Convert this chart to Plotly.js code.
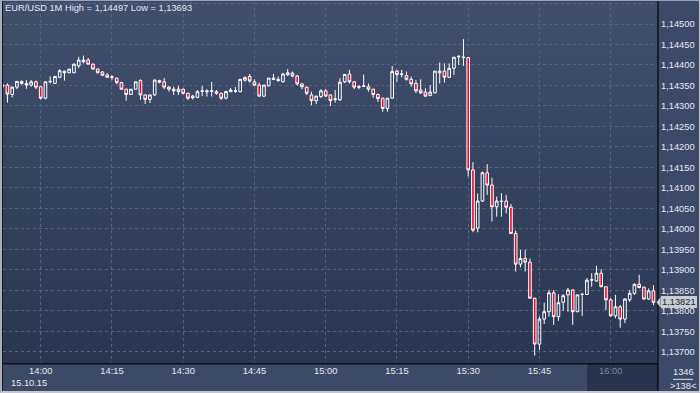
<!DOCTYPE html>
<html>
<head>
<meta charset="utf-8">
<script src="https://cdn.plot.ly/plotly-3.0.1.min.js"></script>
<style>
html,body{margin:0;padding:0;background:#3d4a67;}
#wrap{position:relative;width:700px;height:393px;overflow:hidden;}
#chart{position:absolute;left:0;top:0;width:700px;height:393px;}
#frame{position:absolute;left:0;top:0;width:700px;height:393px;box-sizing:border-box;pointer-events:none;
  border-left:2px solid #aab0b9;border-top:1px solid #9aa3b0;border-right:1px solid #c3c7cd;border-bottom:2px solid #c3c7cd;}
#frame2{position:absolute;left:2px;top:1px;width:1px;height:390px;background:#15181f;pointer-events:none;}
</style>
</head>
<body>
<div id="wrap"><div id="chart"></div><div id="frame"></div><div id="frame2"></div></div>
<script>
// ---- data (EUR/USD, 1 minute bars, 15.10.15) ----
const tradeDate = '2015-10-15';
const times = ['13:52','13:53','13:54','13:55','13:56','13:57','13:58','13:59',
'14:00','14:01','14:02','14:03','14:04','14:05','14:06','14:07','14:08','14:09','14:10','14:11','14:12','14:13','14:14',
'14:15','14:16','14:17','14:18','14:19','14:20','14:21','14:22','14:23','14:24','14:25','14:26','14:27','14:28','14:29',
'14:30','14:31','14:32','14:33','14:34','14:35','14:36','14:37','14:38','14:39','14:40','14:41','14:42','14:43','14:44',
'14:45','14:46','14:47','14:48','14:49','14:50','14:51','14:52','14:53','14:54','14:55','14:56','14:57','14:58','14:59',
'15:00','15:01','15:02','15:03','15:04','15:05','15:06','15:07','15:08','15:09','15:10','15:11','15:12','15:13','15:14',
'15:15','15:16','15:17','15:18','15:19','15:20','15:21','15:22','15:23','15:24','15:25','15:26','15:27','15:28','15:29',
'15:30','15:31','15:32','15:33','15:34','15:35','15:36','15:37','15:38','15:39','15:40','15:41','15:42','15:43','15:44',
'15:45','15:46','15:47','15:48','15:49','15:50','15:51','15:52','15:53','15:54','15:55','15:56','15:57','15:58','15:59',
'16:00','16:01','16:02','16:03','16:04','16:05','16:06','16:07','16:08','16:09'];

const openP = [1.14351,1.14351,1.14328,1.14346,1.14360,1.14355,1.14351,1.14359,
1.14347,1.14319,1.14359,1.14355,1.14370,1.14385,1.14381,1.14381,1.14398,1.14408,1.14412,1.14402,1.14390,1.14383,1.14376,
1.14370,1.14368,1.14357,1.14341,1.14328,1.14341,1.14362,1.14327,1.14316,1.14327,1.14362,1.14359,1.14346,1.14341,1.14335,
1.14341,1.14331,1.14324,1.14321,1.14337,1.14337,1.14336,1.14335,1.14331,1.14319,1.14335,1.14337,1.14335,1.14363,1.14372,
1.14359,1.14351,1.14324,1.14349,1.14368,1.14365,1.14359,1.14376,1.14380,1.14373,1.14354,1.14346,1.14327,1.14313,1.14323,
1.14337,1.14327,1.14316,1.14315,1.14359,1.14378,1.14359,1.14347,1.14349,1.14347,1.14341,1.14328,1.14319,1.14294,1.14319,
1.14385,1.14377,1.14374,1.14365,1.14355,1.14339,1.14334,1.14326,1.14332,1.14381,1.14385,1.14370,1.14392,1.14420,1.14418,
1.14418,1.14144,1.14002,1.14068,1.14137,1.14107,1.14054,1.14068,1.14068,1.14053,1.13989,1.13914,1.13928,1.13919,1.13831,
1.13719,1.13780,1.13798,1.13844,1.13786,1.13821,1.13839,1.13851,1.13798,1.13840,1.13840,1.13875,1.13873,1.13892,1.13859,
1.13827,1.13788,1.13810,1.13780,1.13827,1.13843,1.13865,1.13858,1.13829,1.13849];

const highP = [1.14354,1.14355,1.14347,1.14361,1.14362,1.14363,1.14363,1.14362,
1.14348,1.14359,1.14372,1.14372,1.14390,1.14386,1.14390,1.14404,1.14420,1.14423,1.14417,1.14404,1.14391,1.14385,1.14380,
1.14375,1.14369,1.14359,1.14342,1.14341,1.14359,1.14365,1.14328,1.14327,1.14365,1.14364,1.14368,1.14349,1.14347,1.14349,
1.14342,1.14332,1.14327,1.14339,1.14349,1.14341,1.14359,1.14339,1.14332,1.14337,1.14344,1.14346,1.14365,1.14372,1.14378,
1.14365,1.14357,1.14351,1.14368,1.14378,1.14372,1.14381,1.14390,1.14384,1.14376,1.14355,1.14347,1.14335,1.14324,1.14341,
1.14341,1.14328,1.14339,1.14368,1.14378,1.14388,1.14361,1.14351,1.14377,1.14355,1.14342,1.14330,1.14320,1.14319,1.14398,
1.14388,1.14388,1.14384,1.14372,1.14363,1.14365,1.14343,1.14351,1.14385,1.14406,1.14404,1.14404,1.14419,1.14424,1.14463,
1.14419,1.14163,1.14087,1.14140,1.14158,1.14125,1.14079,1.14087,1.14083,1.14061,1.13996,1.13949,1.13949,1.13928,1.13832,
1.13786,1.13820,1.13851,1.13851,1.13841,1.13841,1.13856,1.13853,1.13840,1.13841,1.13880,1.13892,1.13910,1.13902,1.13860,
1.13831,1.13839,1.13814,1.13831,1.13851,1.13867,1.13888,1.13859,1.13855,1.13863];

const lowP = [1.14344,1.14308,1.14321,1.14341,1.14352,1.14342,1.14347,1.14341,
1.14316,1.14316,1.14355,1.14354,1.14368,1.14362,1.14380,1.14380,1.14392,1.14404,1.14401,1.14389,1.14380,1.14373,1.14369,
1.14363,1.14353,1.14339,1.14313,1.14327,1.14340,1.14315,1.14305,1.14307,1.14324,1.14355,1.14341,1.14335,1.14327,1.14327,
1.14328,1.14315,1.14316,1.14319,1.14324,1.14323,1.14323,1.14327,1.14315,1.14316,1.14334,1.14332,1.14333,1.14359,1.14357,
1.14349,1.14323,1.14322,1.14348,1.14363,1.14359,1.14357,1.14373,1.14370,1.14350,1.14341,1.14327,1.14302,1.14305,1.14319,
1.14323,1.14300,1.14308,1.14312,1.14356,1.14355,1.14341,1.14341,1.14346,1.14335,1.14320,1.14310,1.14286,1.14286,1.14317,
1.14359,1.14370,1.14362,1.14347,1.14331,1.14329,1.14323,1.14324,1.14331,1.14355,1.14357,1.14368,1.14376,1.14400,1.14398,
1.14128,1.13992,1.13992,1.14066,1.14083,1.14018,1.14030,1.14030,1.14038,1.13988,1.13896,1.13906,1.13896,1.13830,1.13691,
1.13705,1.13768,1.13786,1.13766,1.13776,1.13800,1.13798,1.13766,1.13797,1.13788,1.13839,1.13859,1.13871,1.13858,1.13802,
1.13786,1.13782,1.13759,1.13770,1.13822,1.13839,1.13855,1.13827,1.13827,1.13814];

const closeP = [1.14349,1.14329,1.14346,1.14360,1.14355,1.14351,1.14359,1.14346,
1.14319,1.14359,1.14360,1.14372,1.14386,1.14381,1.14390,1.14402,1.14412,1.14412,1.14402,1.14390,1.14381,1.14375,1.14370,
1.14371,1.14357,1.14341,1.14328,1.14341,1.14359,1.14327,1.14316,1.14327,1.14363,1.14358,1.14346,1.14341,1.14337,1.14341,
1.14331,1.14319,1.14320,1.14335,1.14336,1.14335,1.14337,1.14331,1.14319,1.14335,1.14339,1.14336,1.14365,1.14369,1.14361,
1.14351,1.14324,1.14351,1.14368,1.14365,1.14362,1.14378,1.14381,1.14373,1.14354,1.14347,1.14331,1.14313,1.14324,1.14337,
1.14324,1.14313,1.14317,1.14358,1.14377,1.14359,1.14346,1.14346,1.14348,1.14341,1.14328,1.14318,1.14294,1.14319,1.14384,
1.14377,1.14378,1.14365,1.14354,1.14337,1.14332,1.14324,1.14334,1.14385,1.14385,1.14370,1.14392,1.14419,1.14421,1.14419,
1.14144,1.13997,1.14068,1.14137,1.14107,1.14054,1.14068,1.14067,1.14053,1.13989,1.13914,1.13928,1.13919,1.13831,1.13719,
1.13780,1.13798,1.13844,1.13786,1.13820,1.13837,1.13851,1.13798,1.13839,1.13841,1.13875,1.13876,1.13892,1.13859,1.13827,
1.13788,1.13810,1.13780,1.13829,1.13843,1.13865,1.13857,1.13829,1.13849,1.13821];

const titleText = 'EUR/USD 1M High = 1,14497 Low = 1,13693';
const dateLabel = '15.10.15';
const tickTimes = ['14:00','14:15','14:30','14:45','15:00','15:15','15:30','15:45','16:00'];
const dimTick = '16:00';
const lastPriceText = '1,13821';
const lastPrice = 1.13821;
const cornerTop = '1346';
const cornerBottom = '>138<';
const yRange = [1.136729, 1.145537];
const xRange = ['13:52:03.8', '16:09:45'];

// ---- build ----
const x = times.map(t => tradeDate + ' ' + t);

function gradientURL(){
  const c = document.createElement('canvas'); c.width = 4; c.height = 256;
  const g = c.getContext('2d');
  const gr = g.createLinearGradient(0,0,0,256);
  gr.addColorStop(0,'#414f6d');
  gr.addColorStop(1,'#2b3752');
  g.fillStyle = gr; g.fillRect(0,0,4,256);
  return c.toDataURL();
}

const txtCol = '#e6e9ef';
const font = 'Liberation Sans, Arial, sans-serif';
const gridCol = '#56647f';

const trace = {
  type:'candlestick', x:x, open:openP, high:highP, low:lowP, close:closeP,
  increasing:{line:{color:'#ffffff', width:1}, fillcolor:'rgba(0,0,0,0)'},
  decreasing:{line:{color:'#ffffff', width:1}, fillcolor:'#e5112f'},
  whiskerwidth:0, hoverinfo:'skip', showlegend:false
};

const layout = {
  width:700, height:393,
  margin:{l:3, r:43, t:2, b:30, pad:0},
  paper_bgcolor:'#3d4a67', plot_bgcolor:'rgba(0,0,0,0)',
  separators:', ',
  boxgap:0.2,
  font:{family:font, size:9.3, color:txtCol},
  showlegend:false,
  xaxis:{type:'date', range:xRange.map(t => tradeDate + ' ' + t), rangeslider:{visible:false},
    tickvals:tickTimes.map(t => tradeDate + ' ' + t),
    ticktext:tickTimes.map(t => t === dimTick ? '<span style="color:#7c8699">' + t + '</span>' : t),
    showgrid:true, gridcolor:gridCol, griddash:'3px,3px', gridwidth:1,
    ticks:'', showline:false, zeroline:false, tickfont:{size:9.3, color:txtCol}, ticklabelstandoff:1, fixedrange:true},
  yaxis:{side:'right', range:yRange, dtick:0.0005, tick0:1.137, tickformat:'.5f',
    showgrid:true, gridcolor:gridCol, griddash:'3px,3px', gridwidth:1,
    ticks:'', showline:false, zeroline:false, tickfont:{size:9.3, color:txtCol}, ticklabelstandoff:3, fixedrange:true},
  images:[{source:gradientURL(), xref:'paper', yref:'paper', x:0, y:1, sizex:1, sizey:1,
    sizing:'stretch', xanchor:'left', yanchor:'top', layer:'below'}],
  shapes:[
    {type:'rect', xref:'paper', yref:'paper', x0:0.8945, x1:1, y0:-0.085, y1:-0.003,
      fillcolor:'#28334d', line:{width:1, color:'#222b40'}, layer:'below'},
    {type:'line', xref:'paper', yref:'paper', x0:1.0015, x1:1.0015, y0:-0.09, y1:1.01, line:{color:'#0e1015', width:1.5}},
    {type:'line', xref:'paper', yref:'paper', x0:0, x1:1.0015, y0:-0.002, y1:-0.002, line:{color:'#0e1015', width:1.5}},
    {type:'line', xref:'paper', yref:'paper', x0:1.0245, x1:1.0550, y0:-0.0452, y1:-0.0452, line:{color:'#dfe3ea', width:1}, layer:'above'},
    {type:'path', xref:'paper', yref:'y',
      path:'M 0.9992 ' + lastPrice + ' L 1.0055 ' + (lastPrice + 0.00013) + ' L 1.0055 ' + (lastPrice - 0.00013) + ' Z',
      fillcolor:'#c8cdd5', line:{width:0}}
  ],
  annotations:[
    {xref:'paper', yref:'paper', x:0.0005, y:0.9835, xanchor:'left', yanchor:'middle', showarrow:false,
      text:titleText, font:{size:9.3, color:txtCol}},
    {xref:'paper', yref:'paper', x:0.0398, y:-0.0562, xanchor:'center', yanchor:'middle', showarrow:false,
      text:dateLabel, font:{size:9.3, color:txtCol}},
    {xref:'paper', yref:'y', x:1.0055, y:lastPrice, xanchor:'left', yanchor:'middle', showarrow:false,
      text:lastPriceText, font:{size:9.3, color:'#1b1f27'}, bgcolor:'#c8cdd5', bordercolor:'#c8cdd5', borderpad:1, borderwidth:0},
    {xref:'paper', yref:'paper', x:1.0398, y:-0.0241, xanchor:'center', yanchor:'middle', showarrow:false,
      text:cornerTop, font:{size:9.3, color:txtCol}},
    {xref:'paper', yref:'paper', x:1.0398, y:-0.0637, xanchor:'center', yanchor:'middle', showarrow:false,
      text:cornerBottom, font:{size:9.3, color:txtCol}}
  ]
};

Plotly.newPlot('chart', [trace], layout, {displayModeBar:false, staticPlot:true});
</script>
</body>
</html>
